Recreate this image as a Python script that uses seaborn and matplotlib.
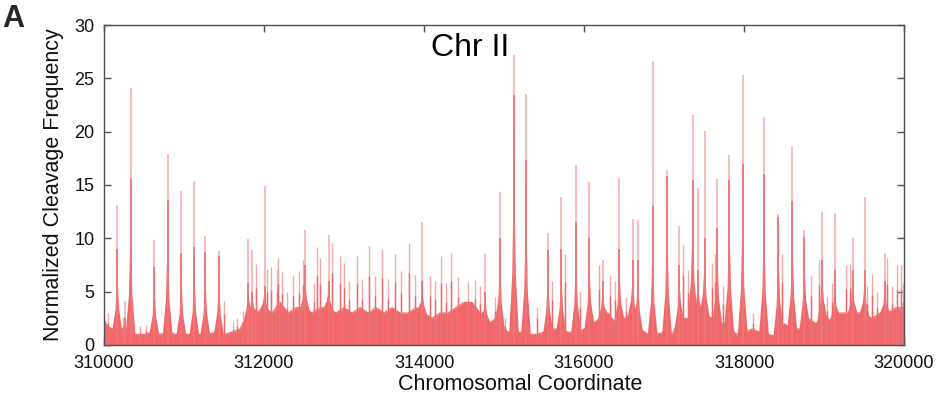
import numpy as np
import pandas as pd
import matplotlib
matplotlib.use("Agg")
import matplotlib.pyplot as plt
import seaborn as sns

# ---------------- data ----------------
# background (solid fill) level, every 100 bp from 310000 to 320000
bg_pos = list(range(310000, 320001, 100))
bg_level = [2.0, 1.5, 1.5, 1.0, 1.0, 1.0, 1.2, 1.0, 1.2, 1.0,
            1.0, 1.0, 1.0, 1.0, 1.2, 1.0, 1.2, 1.5, 3.0, 3.0,
            3.5, 3.0, 4.0, 3.0, 3.5, 3.5, 3.0, 3.5, 3.5, 3.0,
            3.5, 3.0, 3.5, 3.0, 3.5, 3.0, 3.5, 3.0, 3.0, 3.5,
            3.0, 2.5, 3.0, 3.0, 3.5, 4.0, 4.0, 3.0, 2.0, 2.5,
            1.5, 1.0, 1.2, 1.0, 1.0, 1.2, 1.5, 1.5, 1.2, 1.2,
            1.5, 2.0, 2.5, 3.0, 2.0, 2.5, 3.0, 1.5, 1.0, 1.0,
            1.2, 1.0, 2.5, 2.5, 3.0, 3.0, 2.5, 2.0, 2.0, 1.0,
            1.2, 1.5, 1.2, 1.0, 0.8, 2.0, 1.5, 1.5, 2.5, 2.0,
            3.0, 2.0, 3.0, 3.0, 3.0, 3.0, 2.5, 3.0, 3.0, 3.5,
            3.5]

# major cleavage peaks: position, tip height, solid core height
peak_pos = [310000, 310166, 310262, 310333, 310629, 310796, 310966, 311129,
            311266, 311437, 311804, 311854, 312008, 312513, 312808, 313979,
            314767, 314950, 315125, 315275, 315550, 315716, 315900, 316066,
            316234, 316441, 316609, 316675, 316858, 317038, 317191, 317358,
            317425, 317508, 317666, 317816, 317983, 318250, 318429, 318604,
            318754, 318975, 319133, 319358, 319508, 319762]
peak_tip = [5.9, 13.1, 4.1, 24.1, 9.8, 17.9, 14.4, 15.4,
            10.2, 8.8, 9.9, 8.9, 14.9, 10.8, 10.3, 11.5,
            8.5, 14.3, 27.2, 23.5, 10.5, 13.9, 16.9, 15.3,
            8.0, 15.7, 11.8, 11.7, 26.6, 16.4, 11.2, 21.6,
            14.7, 20.1, 15.6, 17.8, 25.3, 21.4, 12.3, 18.6,
            10.8, 12.5, 12.4, 10.0, 13.9, 8.6]
peak_core = [3.0, 9.0, 2.5, 15.6, 7.3, 13.6, 8.6, 9.2,
             8.7, 8.3, 5.8, 5.0, 5.5, 7.5, 6.0, 6.0,
             5.0, 10.0, 23.4, 17.3, 8.9, 9.0, 11.5, 10.0,
             6.0, 9.0, 8.0, 8.0, 13.0, 15.8, 7.5, 15.5,
             7.0, 10.0, 11.0, 15.5, 17.0, 16.0, 12.0, 13.5,
             10.1, 8.0, 7.0, 7.0, 7.0, 6.0]

# minor spikes in the background
spike_pos = [310054, 310233, 310450, 310521, 311500, 311616, 311666, 311741,
             311896, 312041, 312083, 312158, 312179, 312229, 312291, 312358,
             312441, 312491, 312625, 312658, 312700, 312846, 312950, 313000,
             313062, 313158, 313229, 313316, 313383, 313475, 313550, 313633,
             313716, 313809, 313884, 314071, 314141, 314209, 314279, 314342,
             314425, 314550, 314633, 314696, 314883, 315016, 315408, 315600,
             315766, 315954, 316183, 316329, 316391, 316525, 317241, 317296,
             317600, 317633, 317741, 318108, 318471, 318837, 318937, 319033,
             319096, 319275, 319325, 319533, 319600, 319658, 319783, 319846,
             319916, 319962, 319991]
spike_val = [3.0, 2.6, 1.8, 1.9, 4.1, 2.2, 2.5, 3.2,
             7.6, 7.1, 7.3, 7.1, 8.2, 6.8, 5.0, 6.6,
             6.9, 8.0, 5.8, 9.2, 8.2, 9.6, 8.3, 7.7,
             6.0, 8.3, 6.2, 9.3, 6.5, 9.0, 6.2, 8.5,
             6.9, 9.6, 6.6, 6.5, 6.0, 8.3, 5.8, 8.6,
             6.4, 5.9, 6.1, 5.5, 4.5, 2.5, 3.6, 6.0,
             8.5, 5.0, 7.5, 6.6, 6.0, 4.5, 9.4, 7.0,
             7.7, 8.5, 5.5, 3.0, 8.5, 6.5, 8.0, 4.5,
             5.8, 7.5, 7.6, 5.5, 6.7, 5.0, 8.2, 5.5,
             7.5, 7.5, 5.8]

x_ticks = [310000, 312000, 314000, 316000, 318000, 320000]
y_ticks = [0, 5, 10, 15, 20, 25, 30]

# ---------------- styling ----------------
sns.set_style("ticks")
plt.rcParams["font.family"] = ["Liberation Sans", "DejaVu Sans"]

RED = "#F0686A"
PINK = "#F6A9AA"
FRAME = "#505050"

fig = plt.figure(figsize=(9.38, 3.95), dpi=100)
ax = fig.add_axes([0.1109, 0.1266, 0.8529, 0.8101])

bg = pd.DataFrame({"pos": bg_pos, "level": bg_level})
ax.fill_between(bg["pos"], 0, bg["level"], color=RED, lw=0)
sns.lineplot(data=bg, x="pos", y="level", ax=ax, color=RED, lw=0.8)

# minor spikes
ax.vlines(spike_pos, 0, spike_val, color=PINK, lw=1.0)
ax.vlines(spike_pos, 0, [v * 0.7 for v in spike_val], color=RED, lw=1.0)

# peak bases (narrow pyramid around each peak)
offs = np.array([-60, -22, -6, 0, 6, 22, 60])
frac = np.array([0.0, 0.25, 0.6, 1.0, 0.6, 0.25, 0.0])
bg_interp_pos = np.array(bg_pos)
bg_interp_val = np.array(bg_level)
for p, c in zip(peak_pos, peak_core):
    xs = p + offs
    base = np.interp(xs, bg_interp_pos, bg_interp_val)
    ys = base + (c - base) * frac
    ax.fill(np.r_[xs, xs[::-1]], np.r_[ys, np.zeros_like(ys)], color=RED, lw=0)

ax.vlines(peak_pos, 0, peak_tip, color=PINK, lw=1.1)
ax.vlines(peak_pos, 0, peak_core, color=RED, lw=1.1)

ax.set_xlim(310000, 320000)
ax.set_ylim(0, 30)
ax.set_xticks(x_ticks)
ax.set_yticks(y_ticks)
ax.set_xticklabels([str(t) for t in x_ticks])
ax.set_yticklabels([str(t) for t in y_ticks])

for s in ax.spines.values():
    s.set_visible(True)
    s.set_color(FRAME)
    s.set_linewidth(1.0)
ax.tick_params(direction="in", length=5, width=1.0, color=FRAME,
               top=True, right=True, labelsize=13, labelcolor="#111111")
ax.tick_params(axis="x", pad=7)
ax.tick_params(axis="y", pad=7)

ax.set_xlabel("Chromosomal Coordinate", fontsize=15.5, color="#111111")
ax.xaxis.set_label_coords(0.52, -0.09)
ax.set_ylabel("Normalized Cleavage Frequency", fontsize=15.5, labelpad=7, color="#111111")

ax.text(0.458, 0.975, "Chr II", transform=ax.transAxes, fontsize=23,
        ha="center", va="top", color="black")
fig.text(0.002, 0.99, "A", fontsize=22, fontweight="bold", ha="left", va="top")

fig.savefig("out.png", dpi=100)
